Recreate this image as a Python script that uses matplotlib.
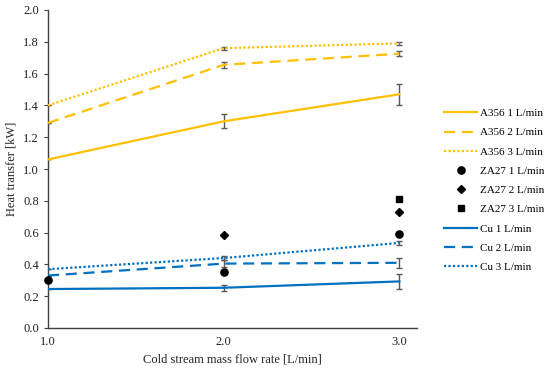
import matplotlib
matplotlib.use("Agg")
import matplotlib.pyplot as plt
from matplotlib.lines import Line2D

x = [1.0, 2.0, 3.0]
a356_1 = [1.06, 1.30, 1.47]
a356_1_err = [0.0, 0.045, 0.065]
a356_2 = [1.29, 1.655, 1.725]
a356_2_err = [0.0, 0.02, 0.015]
a356_3 = [1.40, 1.76, 1.79]
a356_3_err = [0.0, 0.01, 0.008]

za27_1_x = [1.0, 2.0, 3.0]
za27_1 = [0.30, 0.35, 0.59]
za27_2_x = [2.0, 3.0]
za27_2 = [0.585, 0.73]
za27_3_x = [3.0]
za27_3 = [0.81]

cu_1 = [0.245, 0.253, 0.293]
cu_1_err = [0.0, 0.02, 0.045]
cu_2 = [0.33, 0.405, 0.41]
cu_2_err = [0.0, 0.02, 0.03]
cu_3 = [0.37, 0.44, 0.535]
cu_3_err = [0.0, 0.012, 0.01]

plt.rcParams['font.family'] = ['Liberation Serif', 'DejaVu Serif']
gold = '#FFC000'
blue = '#0070C0'
ecol = '#595959'
dash = (0, (5, 3))
dot = (0, (1, 1))

fig = plt.figure(figsize=(5.5, 3.74), dpi=100)
ax = fig.add_axes([48/550, 1-328/374, (417-48)/550, (328-10)/374])

handles = []

def eb(y, err, color, ls, label, lw=1.6):
    ax.errorbar(x, y, yerr=err, color=color, ls=ls, lw=lw, ecolor=ecol,
                elinewidth=1.0, capsize=2.5, capthick=1.0, zorder=3)
    handles.append(Line2D([], [], color=color, ls=ls, lw=lw, label=label))

def sc(xs, ys, marker, ms, label):
    ax.plot(xs, ys, marker, color='black', ms=ms, ls='none', zorder=4, clip_on=False)
    handles.append(Line2D([], [], marker=marker, color='black', ms=ms, ls='none', label=label))

eb(a356_1, a356_1_err, gold, '-', 'A356 1 L/min')
eb(a356_2, a356_2_err, gold, dash, 'A356 2 L/min')
eb(a356_3, a356_3_err, gold, dot, 'A356 3 L/min')
sc(za27_1_x, za27_1, 'o', 5.2, 'ZA27 1 L/min')
sc(za27_2_x, za27_2, 'D', 3.6, 'ZA27 2 L/min')
sc(za27_3_x, za27_3, 's', 5.0, 'ZA27 3 L/min')
eb(cu_1, cu_1_err, blue, '-', 'Cu 1 L/min')
eb(cu_2, cu_2_err, blue, dash, 'Cu 2 L/min')
eb(cu_3, cu_3_err, blue, dot, 'Cu 3 L/min')

ax.set_xlim(1.0, 3.1)
ax.set_ylim(0.0, 2.0)
ax.set_xticks([1.0, 2.0, 3.0])
ax.set_xticklabels(['1.0', '2.0', '3.0'])
ax.set_yticks([i * 0.2 for i in range(11)])
ax.set_yticklabels([f'{i*0.2:.1f}' for i in range(11)])
ax.spines['top'].set_visible(False)
ax.spines['right'].set_visible(False)
for s in ['left', 'bottom']:
    ax.spines[s].set_color('#404040')
    ax.spines[s].set_linewidth(1.0)
ax.tick_params(axis='both', labelsize=9, colors='#404040', labelcolor='#222222', length=3, direction='out')
ax.tick_params(axis='x', length=0, pad=6)
ax.set_xlabel('Cold stream mass flow rate [L/min]', fontsize=9, color='#222222')
ax.set_ylabel('Heat transfer [kW]', fontsize=9, color='#222222')

leg = fig.legend(handles=handles, loc='upper left', bbox_to_anchor=(440/550, 1-104/374),
                 frameon=False, fontsize=8, handlelength=2.9, labelspacing=0.85,
                 handletextpad=0.3, borderaxespad=0)
fig.savefig('out.png', dpi=100)
